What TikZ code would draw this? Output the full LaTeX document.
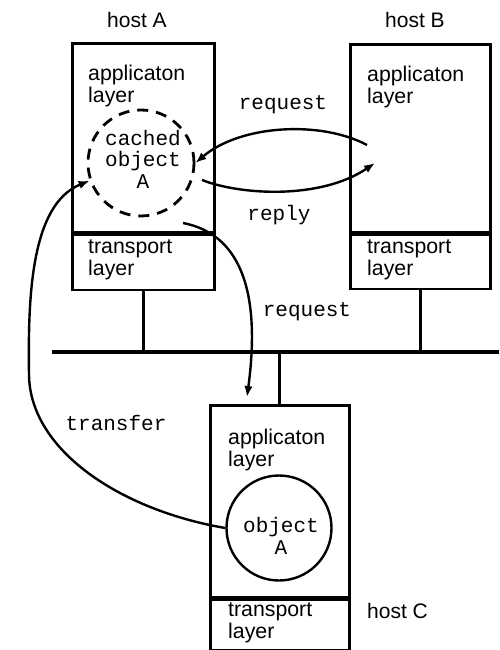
\documentclass[tikz,border=0pt]{standalone}
\usepackage{fontspec}
\setmainfont{Liberation Sans}
\setmonofont{Liberation Mono}
\usetikzlibrary{arrows.meta,calc}
\begin{document}
\begin{tikzpicture}[x=1pt,y=-1pt,
  layerbox/.style={draw, line width=2.6pt, rectangle, anchor=north west, inner sep=0pt},
  layertext/.style={anchor=north west, align=left, inner sep=0pt, font=\fontsize{21.3}{22}\selectfont},
  hostname/.style={inner sep=0pt, font=\fontsize{21}{22}\selectfont},
  msg/.style={inner sep=0pt, font=\ttfamily\fontsize{21}{21}\selectfont},
  objtext/.style={align=center, inner sep=0pt, font=\ttfamily\fontsize{21}{21.5}\selectfont},
  flow/.style={line width=2.4pt, -{Latex[length=11pt,width=8.5pt]}},
  wire/.style={line width=3pt},
]
\useasboundingbox (0,0) rectangle (499,650);

% host A
\node[layerbox, minimum width=142pt, minimum height=189pt] (Aapp) at (71,42) {};
\node[layerbox, minimum width=142pt, minimum height=55pt] (Atr) at (Aapp.south west) {};
\node[layertext] at ($(Aapp.north west)+(17,23)$) {applicaton\\layer};
\node[layertext] at ($(Atr.north west)+(17,6)$) {transport\\layer};
\node[hostname, anchor=base] (hA) at (137,28) {host A};

% host B
\node[layerbox, minimum width=140pt, minimum height=188pt] (Bapp) at (349,43) {};
\node[layerbox, minimum width=140pt, minimum height=54pt] (Btr) at (Bapp.south west) {};
\node[layertext] at ($(Bapp.north west)+(18,23)$) {applicaton\\layer};
\node[layertext] at ($(Btr.north west)+(18,6)$) {transport\\layer};
\node[hostname, anchor=base] (hB) at (415,28) {host B};

% host C
\node[layerbox, minimum width=139pt, minimum height=192pt] (Capp) at (209,404) {};
\node[layerbox, minimum width=139pt, minimum height=50pt] (Ctr) at (Capp.south west) {};
\node[layertext] at ($(Capp.north west)+(19,25)$) {applicaton\\layer};
\node[layertext] at ($(Ctr.north west)+(19,4)$) {transport\\layer};
\node[hostname, anchor=base west] (hC) at (367,618) {host C};

% network
\coordinate (busL) at (52,352);
\coordinate (busR) at (499,352);
\draw[line width=4pt] (busL) -- (busR);
\draw[wire] (Atr.south) -- (Atr.south |- busL);
\draw[wire] (Btr.south) -- (Btr.south |- busL);
\draw[wire] (Capp.north) -- (Capp.north |- busL);

% objects
\node[draw, circle, dash pattern=on 11pt off 8pt, line width=2.8pt, minimum size=106pt, inner sep=0pt] (cached) at (141,163) {};
\node[objtext] (cachedtxt) at (143,159) {cached\\object\\A};
\node[draw, circle, line width=2.4pt, minimum size=105pt, inner sep=0pt] (obj) at (279,528) {};
\node[objtext] (objtxt) at (281,536) {object\\A};

% messages
\coordinate (reqBfrom) at (367,145);
\draw[flow] (reqBfrom) .. controls (320,120) and (240,125) .. (cached.east);
\coordinate (replyFrom) at (202,180);
\coordinate (replyTo) at (375,163);
\draw[flow] (replyFrom) .. controls (240,195) and (320,200) .. (replyTo);
\coordinate (reqCfrom) at (183,223);
\coordinate (reqCto) at (247,397);
\draw[flow] (reqCfrom) .. controls (245,235) and (260,300) .. (reqCto);
\draw[flow] (obj.west) .. controls (120,510) and (30,450) .. (29,375)
  .. controls (28,300) and (30,205) .. (cached.199);

\node[msg] at (283,105) {request};
\node[msg] at (279,215) {reply};
\node[msg] at (307,312) {request};
\node[msg] at (116,423) {transfer};
\end{tikzpicture}
\end{document}
